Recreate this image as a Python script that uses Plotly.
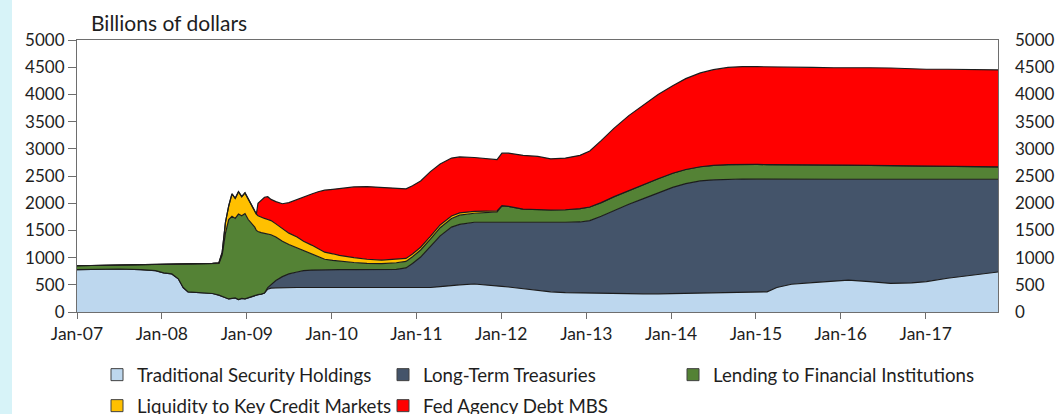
import plotly.graph_objects as go

# ---------------- data (billions of dollars) ----------------
dates = [
    "2007-01-01", "2007-04-04", "2007-07-04", "2007-10-03", "2007-12-05",
    "2008-01-09", "2008-02-13", "2008-03-12", "2008-04-02", "2008-04-23",
    "2008-06-04", "2008-08-06", "2008-09-03", "2008-09-17", "2008-10-01",
    "2008-10-15", "2008-10-29", "2008-11-12", "2008-11-26", "2008-12-10",
    "2008-12-24", "2009-01-07", "2009-01-21", "2009-02-04", "2009-02-11",
    "2009-02-18", "2009-03-04", "2009-03-18", "2009-04-01", "2009-04-15",
    "2009-05-06", "2009-06-03", "2009-07-01", "2009-08-05", "2009-09-02",
    "2009-10-07", "2009-11-04", "2009-12-02", "2010-01-06", "2010-02-03",
    "2010-04-07", "2010-06-02", "2010-08-04", "2010-10-06", "2010-11-17",
    "2010-12-15", "2011-01-19", "2011-03-02", "2011-04-13", "2011-06-01",
    "2011-07-06", "2011-09-07", "2011-11-02", "2011-12-14", "2012-01-04",
    "2012-02-01", "2012-04-04", "2012-06-06", "2012-08-01", "2012-10-03",
    "2012-12-05", "2013-01-16", "2013-03-06", "2013-05-01", "2013-07-03",
    "2013-09-04", "2013-11-06", "2014-01-08", "2014-03-05", "2014-05-07",
    "2014-07-02", "2014-09-03", "2014-11-05", "2015-01-07", "2015-02-18",
    "2015-04-01", "2015-06-03", "2015-09-02", "2015-12-02", "2016-02-03",
    "2016-05-04", "2016-08-03", "2016-11-02", "2017-01-04", "2017-04-05",
    "2017-07-05", "2017-09-06", "2017-11-08",
]

traditional_security_holdings = [
    780, 785, 790, 780, 760,
    720, 700, 610, 450, 370,
    360, 340, 310, 290, 260,
    240, 250, 260, 230, 250,
    240, 260, 290, 300, 310,
    320, 330, 350, 420, 440,
    445, 450, 450, 450, 450,
    450, 450, 450, 450, 450,
    445, 445, 440, 440, 440,
    440, 445, 450, 465, 490,
    500, 515, 500, 480, 470,
    460, 430, 400, 370, 355,
    350, 345, 340, 340, 338,
    335, 335, 340, 345, 350,
    352, 355, 358, 360, 370,
    450, 510, 540, 560, 585,
    560, 525, 535, 560, 620,
    670, 700, 735,
]

long_term_treasuries = [
    0, 0, 0, 0, 0,
    0, 0, 0, 0, 0,
    0, 0, 0, 0, 0,
    0, 0, 0, 0, 0,
    0, 0, 0, 0, 0,
    0, 0, 0, 30, 60,
    135, 200, 250, 285, 310,
    320, 325, 326, 327, 328,
    335, 335, 340, 345, 370,
    450, 565, 750, 935, 1070,
    1110, 1135, 1150, 1170, 1180,
    1190, 1210, 1240, 1275, 1295,
    1305, 1335, 1420, 1530, 1642,
    1750, 1855, 1950, 2015, 2060,
    2078, 2085, 2087, 2082, 2070,
    1990, 1930, 1900, 1880, 1855,
    1880, 1915, 1905, 1880, 1820,
    1770, 1740, 1705,
]

lending_to_financial_institutions = [
    70, 73, 75, 85, 108,
    150, 172, 265, 428, 510,
    525, 548, 582, 760, 1190,
    1460, 1510, 1460, 1570, 1520,
    1570, 1440, 1340, 1260, 1190,
    1160, 1130, 1100, 990, 920,
    800, 650, 540, 445, 360,
    290, 235, 194, 173, 157,
    130, 115, 110, 120, 120,
    125, 130, 140, 150, 160,
    170, 165, 175, 190, 300,
    290, 250, 240, 230, 230,
    245, 250, 250, 250, 255,
    260, 260, 260, 260, 260,
    265, 268, 270, 270, 270,
    270, 268, 265, 265, 260,
    255, 250, 245, 240, 235,
    232, 230, 228,
]

liquidity_to_key_credit_markets = [
    0, 0, 0, 0, 0,
    0, 0, 0, 0, 0,
    1, 7, 13, 50, 200,
    250, 410, 370, 410, 350,
    380, 380, 320, 300, 300,
    290, 280, 270, 260, 260,
    240, 240, 210, 200, 180,
    170, 150, 130, 120, 105,
    90, 75, 65, 60, 55,
    50, 50, 50, 50, 45,
    42, 35, 30, 20, 5,
    2, 0, 0, 0, 0,
    0, 0, 0, 0, 0,
    0, 0, 0, 0, 0,
    0, 0, 0, 0, 0,
    0, 0, 0, 0, 0,
    0, 0, 0, 0, 0,
    0, 0, 0,
]

fed_agency_debt_mbs = [
    0, 0, 0, 0, 0,
    0, 0, 0, 0, 0,
    0, 0, 0, 0, 0,
    0, 0, 0, 0, 0,
    0, 0, 0, 0, 0,
    230, 320, 390, 420, 390,
    410, 450, 560, 690, 820,
    940, 1050, 1140, 1185, 1230,
    1300, 1335, 1340, 1310, 1280,
    1255, 1220, 1190, 1120, 1065,
    1028, 990, 965, 940, 965,
    978, 990, 980, 940, 950,
    980, 1030, 1140, 1260, 1375,
    1465, 1550, 1610, 1670, 1725,
    1760, 1787, 1797, 1798, 1795,
    1790, 1787, 1790, 1785, 1795,
    1795, 1795, 1785, 1782, 1787,
    1788, 1785, 1782,
]

series_names = [
    "Traditional Security Holdings",
    "Long-Term Treasuries",
    "Lending to Financial Institutions",
    "Liquidity to Key Credit Markets",
    "Fed Agency Debt MBS",
]
series_values = [
    traditional_security_holdings,
    long_term_treasuries,
    lending_to_financial_institutions,
    liquidity_to_key_credit_markets,
    fed_agency_debt_mbs,
]
series_colors = ["#bdd7ee", "#44546a", "#548235", "#ffc000", "#ff0000"]
series_legend = ["legend", "legend", "legend3", "legend2", "legend2"]

x_tick_values = [f"{y}-01-01" for y in range(2007, 2018)]
x_tick_labels = ["Jan-07", "Jan-08", "Jan-09", "Jan-10", "Jan-11", "Jan-12",
                 "Jan-13", "Jan-14", "Jan-15", "Jan-16", "Jan-17"]
y_tick_values = [0, 500, 1000, 1500, 2000, 2500, 3000, 3500, 4000, 4500, 5000]

# ---------------- figure ----------------
W, H = 1057, 414
ML, MR, MT, MB = 77, 59, 40, 102
PW, PH = W - ML - MR, H - MT - MB

FONT = "Lato, Carlito, 'Open Sans', sans-serif"
TXT = "#1e1e1e"
AX = "#6e6e6e"

fig = go.Figure()

for name, vals, color in zip(series_names, series_values, series_colors):
    fig.add_trace(go.Scatter(
        x=dates, y=vals, name=name, stackgroup="one", mode="lines",
        line=dict(color="#1c1c1c", width=1.2), fillcolor=color,
        showlegend=False, hoverinfo="skip",
    ))

for name, color, lg in zip(series_names, series_colors, series_legend):
    fig.add_trace(go.Scatter(
        x=[None], y=[None], name=name, mode="markers", yaxis="y2",
        marker=dict(symbol="square", size=12, color=color,
                    line=dict(color="#404040", width=1)),
        legend=lg, showlegend=True,
    ))

legend_common = dict(
    orientation="h", xanchor="left", yanchor="middle",
    traceorder="normal",
    font=dict(family=FONT, size=18.7, color=TXT),
    bgcolor="rgba(0,0,0,0)", borderwidth=0,
    itemclick=False, itemdoubleclick=False,
)

fig.update_layout(
    width=W, height=H,
    margin=dict(l=ML, r=MR, t=MT, b=MB, autoexpand=False),
    paper_bgcolor="white", plot_bgcolor="white",
    font=dict(family=FONT, size=17, color=TXT),
    showlegend=True,
    xaxis=dict(
        type="date", range=["2007-01-01", "2017-11-08"],
        tickmode="array", tickvals=x_tick_values, ticktext=x_tick_labels,
        ticks="outside", ticklen=6, tickwidth=1.2, tickcolor=AX,
        showline=True, linecolor=AX, linewidth=1.2, mirror=True,
        showgrid=False, zeroline=False,
        tickfont=dict(family=FONT, size=17.5, color=TXT),
    ),
    yaxis=dict(
        range=[0, 5000], tickmode="array", tickvals=y_tick_values,
        tickformat="d",
        ticks="outside", ticklen=8, tickwidth=1.2, tickcolor=AX,
        showline=True, linecolor=AX, linewidth=1.2, mirror=True,
        showgrid=False, zeroline=False,
        tickfont=dict(family=FONT, size=17, color=TXT),
    ),
    yaxis2=dict(
        overlaying="y", side="right", anchor="x",
        range=[0, 5000], tickmode="array", tickvals=y_tick_values,
        tickformat="d", ticks="", showline=False, showgrid=False,
        zeroline=False, ticklabelstandoff=16,
        tickfont=dict(family=FONT, size=17, color=TXT),
    ),
    legend=dict(legend_common, entrywidth=241, entrywidthmode="pixels",
                x=(97 - ML) / PW, y=(MT + PH - 375) / PH),
    legend2=dict(legend_common, entrywidth=241, entrywidthmode="pixels",
                 x=(97 - ML) / PW, y=(MT + PH - 406) / PH),
    legend3=dict(legend_common, x=(673 - ML) / PW, y=(MT + PH - 375) / PH),
)

# light cyan strip at the left edge of the image
fig.add_shape(
    type="rect", xref="paper", yref="paper",
    x0=-ML / PW - 0.01, x1=(12 - ML) / PW, y0=-MB / PH - 0.05, y1=1 + MT / PH + 0.05,
    fillcolor="#d7f3f8", line=dict(width=0), layer="below",
)

fig.add_annotation(
    text="Billions of dollars", xref="paper", yref="paper",
    x=(89 - ML) / PW, y=(MT + PH - 22) / PH, xanchor="left", yanchor="middle",
    showarrow=False, font=dict(family=FONT, size=21, color=TXT),
)

fig.write_html(
    "out.html",
    config={"displayModeBar": False},
    post_script="document.body.style.margin='0';document.body.style.overflow='hidden';",
)
